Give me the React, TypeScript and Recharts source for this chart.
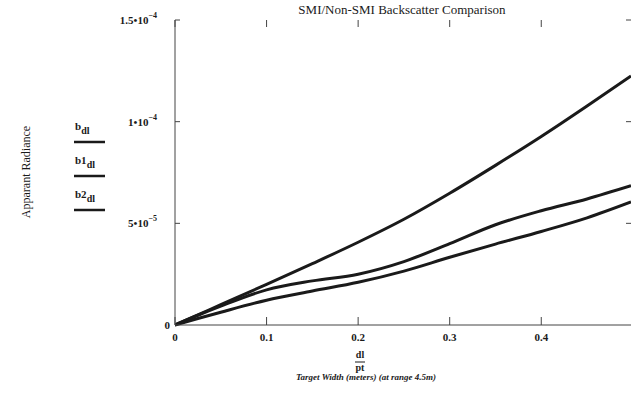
import React from "react";
import { LineChart, Line, XAxis, YAxis } from "recharts";

const xValues = [0, 0.025, 0.05, 0.1, 0.15, 0.2, 0.25, 0.3, 0.35, 0.4, 0.45, 0.498];
const bValues = [0, 5e-6, 1.0e-5, 2.0e-5, 3.02e-5, 4.07e-5, 5.2e-5, 6.48e-5, 7.85e-5, 9.27e-5, 1.077e-4, 1.225e-4];
const b1Values = [0, 4.8e-6, 9.3e-6, 1.73e-5, 2.17e-5, 2.5e-5, 3.12e-5, 4.0e-5, 4.93e-5, 5.62e-5, 6.2e-5, 6.85e-5];
const b2Values = [0, 3.2e-6, 6.3e-6, 1.22e-5, 1.67e-5, 2.1e-5, 2.65e-5, 3.33e-5, 3.98e-5, 4.6e-5, 5.27e-5, 6.05e-5];

const xTicks = [0, 0.1, 0.2, 0.3, 0.4];
const xTickLabels = ["0", "0.1", "0.2", "0.3", "0.4"];
const yTicks = [0, 5e-5, 1e-4, 1.5e-4];
const yTickMantissa = ["0", "5\u202210", "1\u202210", "1.5\u202210"];
const yTickExponent = ["", "\u22125", "\u22124", "\u22124"];

const legendNames = ["b", "b1", "b2"];
const title = "SMI/Non-SMI Backscatter Comparison";
const yLabel = "Apparant Radiance";
const xLabel = "Target Width (meters) (at range 4.5m)";

const data = xValues.map((x, i) => ({ x, b: bValues[i], b1: b1Values[i], b2: b2Values[i] }));

const W = 637;
const H = 400;
const PLOT_TOP = 20;
const PLOT_LEFT = 175;
const PLOT_RIGHT = 631;
const PLOT_BOTTOM = 325;
const FONT = "'Liberation Serif', 'Times New Roman', serif";
const INK = "#1a1a1a";

const XTick = (props: any) => {
  const { x, y, payload } = props;
  const idx = xTicks.indexOf(payload.value);
  return (
    <g>
      <line x1={x} y1={PLOT_BOTTOM} x2={x} y2={PLOT_BOTTOM - 8} stroke="#444" strokeWidth={1} />
      <line x1={x} y1={PLOT_TOP} x2={x} y2={PLOT_TOP + 7} stroke="#444" strokeWidth={1} />
      <text x={x} y={y + 16} textAnchor="middle" fontFamily={FONT} fontSize={11} fontWeight="bold" fill={INK}>
        {idx >= 0 ? xTickLabels[idx] : ""}
      </text>
    </g>
  );
};

const YTick = (props: any) => {
  const { x, y, payload } = props;
  const idx = yTicks.indexOf(payload.value);
  const isZero = payload.value === 0;
  return (
    <g>
      {!isZero && (
        <>
          <line x1={PLOT_LEFT} y1={y} x2={PLOT_LEFT + 5} y2={y} stroke="#444" strokeWidth={1} />
          <line x1={PLOT_RIGHT - 5} y1={y} x2={PLOT_RIGHT} y2={y} stroke="#444" strokeWidth={1} />
        </>
      )}
      <text
        x={isZero ? x - 5 : x - 18}
        y={y + 4}
        textAnchor="end"
        fontFamily={FONT}
        fontSize={11}
        fontWeight="bold"
        fill={INK}
      >
        {yTickMantissa[idx]}
        {!isZero && (
          <tspan dy={-6} fontSize={8}>
            {yTickExponent[idx]}
          </tspan>
        )}
      </text>
    </g>
  );
};

export default function App() {
  const legendLineY = [142, 176, 210];
  return (
    <div style={{ position: "absolute", left: 0, top: 0, width: W, height: H, background: "#fff" }}>
      <LineChart
        width={W}
        height={H}
        data={data}
        margin={{ top: PLOT_TOP, right: W - PLOT_RIGHT, bottom: H - PLOT_BOTTOM - 30, left: PLOT_LEFT - 60 }}
      >
        <XAxis
          dataKey="x"
          type="number"
          domain={[0, 0.498]}
          ticks={xTicks}
          allowDataOverflow
          height={30}
          tickLine={false}
          tickSize={0}
          tickMargin={0}
          axisLine={{ stroke: "#444", strokeWidth: 1 }}
          tick={<XTick />}
          interval={0}
        />
        <XAxis
          xAxisId="top"
          orientation="top"
          dataKey="x"
          type="number"
          domain={[0, 0.498]}
          height={0}
          tick={false}
          tickLine={false}
          axisLine={{ stroke: "#444", strokeWidth: 1 }}
        />
        <YAxis
          type="number"
          domain={[0, 1.5e-4]}
          ticks={yTicks}
          width={60}
          tickLine={false}
          tickSize={0}
          tickMargin={0}
          axisLine={{ stroke: "#444", strokeWidth: 1 }}
          tick={<YTick />}
          interval={0}
        />
        <YAxis
          yAxisId="right"
          orientation="right"
          type="number"
          domain={[0, 1.5e-4]}
          width={0}
          tick={false}
          tickLine={false}
          axisLine={{ stroke: "#444", strokeWidth: 1 }}
        />
        <Line type="monotone" dataKey="b" stroke={INK} strokeWidth={3} dot={false} isAnimationActive={false} />
        <Line type="monotone" dataKey="b1" stroke={INK} strokeWidth={3} dot={false} isAnimationActive={false} />
        <Line type="monotone" dataKey="b2" stroke={INK} strokeWidth={3} dot={false} isAnimationActive={false} />
      </LineChart>
      <svg
        width={W}
        height={H}
        style={{ position: "absolute", left: 0, top: 0, pointerEvents: "none" }}
      >
        <text x={402} y={14} textAnchor="middle" fontFamily={FONT} fontSize={13} fill={INK}>
          {title}
        </text>
        <text
          x={30}
          y={172}
          transform="rotate(-90 30 172)"
          textAnchor="middle"
          fontFamily={FONT}
          fontSize={12}
          fill={INK}
        >
          {yLabel}
        </text>
        {legendNames.map((n, i) => (
          <g key={n}>
            <text x={75} y={legendLineY[i] - 12} fontFamily={FONT} fontSize={11} fontWeight="bold" fill={INK}>
              {n}
              <tspan dy={4} fontSize={10}>dl</tspan>
            </text>
            <line x1={74} y1={legendLineY[i]} x2={105} y2={legendLineY[i]} stroke={INK} strokeWidth={2.5} />
          </g>
        ))}
        <text x={360} y={358} textAnchor="middle" fontFamily={FONT} fontSize={10} fontWeight="bold" fill={INK}>
          dl
        </text>
        <line x1={355} y1={362} x2={365} y2={362} stroke={INK} strokeWidth={1} />
        <text x={360} y={371} textAnchor="middle" fontFamily={FONT} fontSize={10} fontWeight="bold" fill={INK}>
          pt
        </text>
        <text
          x={366}
          y={380}
          textAnchor="middle"
          fontFamily={FONT}
          fontSize={9}
          fontStyle="italic"
          fontWeight="bold"
          fill={INK}
        >
          {xLabel}
        </text>
      </svg>
    </div>
  );
}
